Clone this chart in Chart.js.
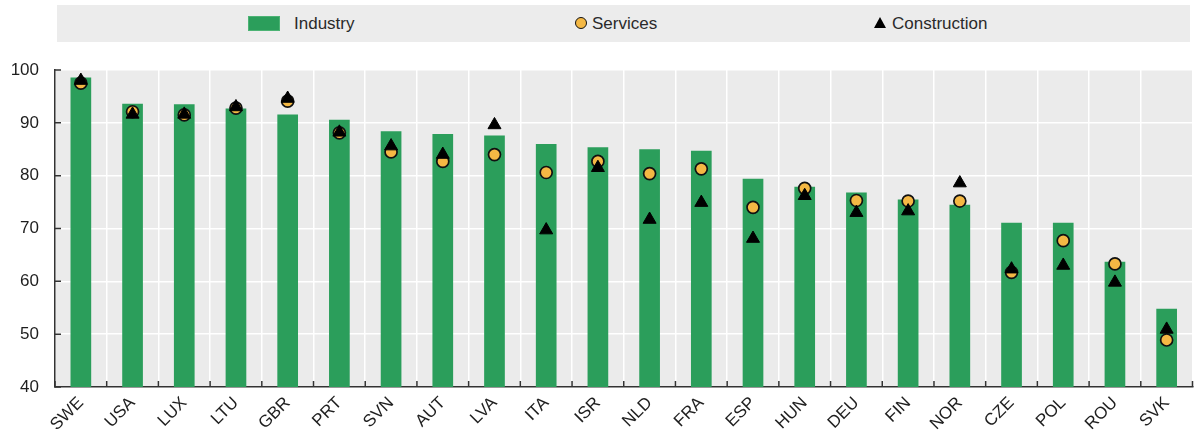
<!DOCTYPE html>
<html>
<head>
<meta charset="utf-8">
<script src="https://cdn.jsdelivr.net/npm/chart.js@4.4.1/dist/chart.umd.min.js"></script>
<style>
html,body{margin:0;padding:0;background:#fff;}
#wrap{position:relative;width:1201px;height:434px;font-family:"Liberation Sans",Arial,sans-serif;color:#333;}
#c{position:absolute;left:0;top:0;}
.lg{position:absolute;left:57px;top:5px;width:1133px;height:37px;background:#ececec;}
.it{position:absolute;top:0;height:37px;line-height:37px;font-size:17px;color:#2a2a2a;white-space:nowrap;}
.sw{position:absolute;top:11px;width:30px;height:13px;background:#2b9e5b;border:1px solid #4cb374;}
.ci{position:absolute;left:518px;top:12px;width:10px;height:10px;border-radius:50%;background:#f4b844;border:1.5px solid #111;}
.tr{position:absolute;left:817px;top:12px;width:0;height:0;border-left:6.5px solid transparent;border-right:6.5px solid transparent;border-bottom:11px solid #000;}
</style>
</head>
<body>
<div id="wrap">
  <canvas id="c" width="1201" height="434"></canvas>
  <div class="lg">
    <div class="sw" style="left:191px;"></div>
    <div class="it" style="left:237px;">Industry</div>
    <div class="ci"></div>
    <div class="it" style="left:535px;">Services</div>
    <div class="tr"></div>
    <div class="it" style="left:835px;">Construction</div>
  </div>
</div>
<script>
const categories = ['SWE','USA','LUX','LTU','GBR','PRT','SVN','AUT','LVA','ITA','ISR','NLD','FRA','ESP','HUN','DEU','FIN','NOR','CZE','POL','ROU','SVK'];
const industry = [98.6, 93.6, 93.5, 92.7, 91.6, 90.6, 88.4, 87.9, 87.6, 86.0, 85.4, 85.0, 84.7, 79.4, 77.9, 76.8, 75.5, 74.5, 71.1, 71.1, 63.7, 54.8];
const services = [97.5, 92.1, 91.5, 92.8, 94.1, 88.1, 84.5, 82.7, 84.0, 80.6, 82.7, 80.4, 81.3, 74.0, 77.6, 75.3, 75.2, 75.2, 61.7, 67.7, 63.3, 48.9];
const construction = [98.0, 91.6, 91.6, 93.0, 94.6, 88.2, 85.6, 84.0, 89.6, 69.7, 81.5, 71.7, 74.9, 68.1, 76.2, 73.0, 73.3, 78.6, 62.3, 63.0, 59.8, 50.9];
const yTicks = [40, 50, 60, 70, 80, 90, 100];

const FONT = '"Liberation Sans", Arial, sans-serif';

const bgPlugin = {
  id: 'bg',
  beforeDraw(chart) {
    const {ctx, chartArea: a} = chart;
    ctx.save();
    ctx.fillStyle = '#ebebeb';
    ctx.fillRect(a.left, a.top, a.right - a.left, a.bottom - a.top);
    ctx.restore();
  }
};

const tickPlugin = {
  id: 'innerTicks',
  afterDatasetsDraw(chart) {
    const {ctx, scales: {x, y}} = chart;
    ctx.save();
    ctx.strokeStyle = '#333';
    ctx.lineWidth = 1.5;
    ctx.beginPath();
    yTicks.forEach(v => {
      const py = y.getPixelForValue(v);
      ctx.moveTo(x.left, py);
      ctx.lineTo(x.left + 6, py);
    });
    for (let i = 0; i <= categories.length; i++) {
      const px = x.getPixelForValue(i - 0.5);
      ctx.moveTo(px, y.bottom);
      ctx.lineTo(px, y.bottom - 6);
    }
    ctx.stroke();
    ctx.restore();
  }
};

new Chart(document.getElementById('c'), {
  type: 'bar',
  data: {
    labels: categories,
    datasets: [
      {
        type: 'line', label: 'Construction', data: construction, showLine: false,
        pointStyle: 'triangle', pointRadius: 7.5, pointBackgroundColor: '#000',
        pointBorderColor: '#000', pointBorderWidth: 1, order: 1
      },
      {
        type: 'line', label: 'Services', data: services, showLine: false,
        pointStyle: 'circle', pointRadius: 6, pointBackgroundColor: '#f4b844',
        pointBorderColor: '#111', pointBorderWidth: 1.7, order: 2
      },
      {
        type: 'bar', label: 'Industry', data: industry, backgroundColor: '#2b9e5b',
        barPercentage: 0.4, categoryPercentage: 1, order: 3
      }
    ]
  },
  options: {
    responsive: false,
    animation: false,
    events: [],
    layout: { padding: { top: 70, right: 2, left: 0, bottom: 0 } },
    plugins: { legend: { display: false }, tooltip: { enabled: false } },
    scales: {
      x: {
        offset: true,
        grid: { color: '#ffffff', lineWidth: 1.5, offset: true, drawTicks: false },
        border: { display: true, color: '#333', width: 1.5 },
        ticks: {
          autoSkip: false, maxRotation: 45, minRotation: 45, padding: 6,
          color: '#1e1e1e', font: { family: FONT, size: 17 }
        },
        afterFit(s) { s.height = 47; }
      },
      y: {
        min: 40, max: 100,
        afterBuildTicks(s) { s.ticks = yTicks.map(v => ({ value: v })); },
        grid: { color: '#ffffff', lineWidth: 1.5, drawTicks: false },
        border: { display: true, color: '#333', width: 1.5 },
        ticks: { padding: 16, color: '#1e1e1e', font: { family: FONT, size: 17 } },
        afterFit(s) { s.width = 55; }
      }
    }
  },
  plugins: [bgPlugin, tickPlugin]
});
</script>
</body>
</html>
